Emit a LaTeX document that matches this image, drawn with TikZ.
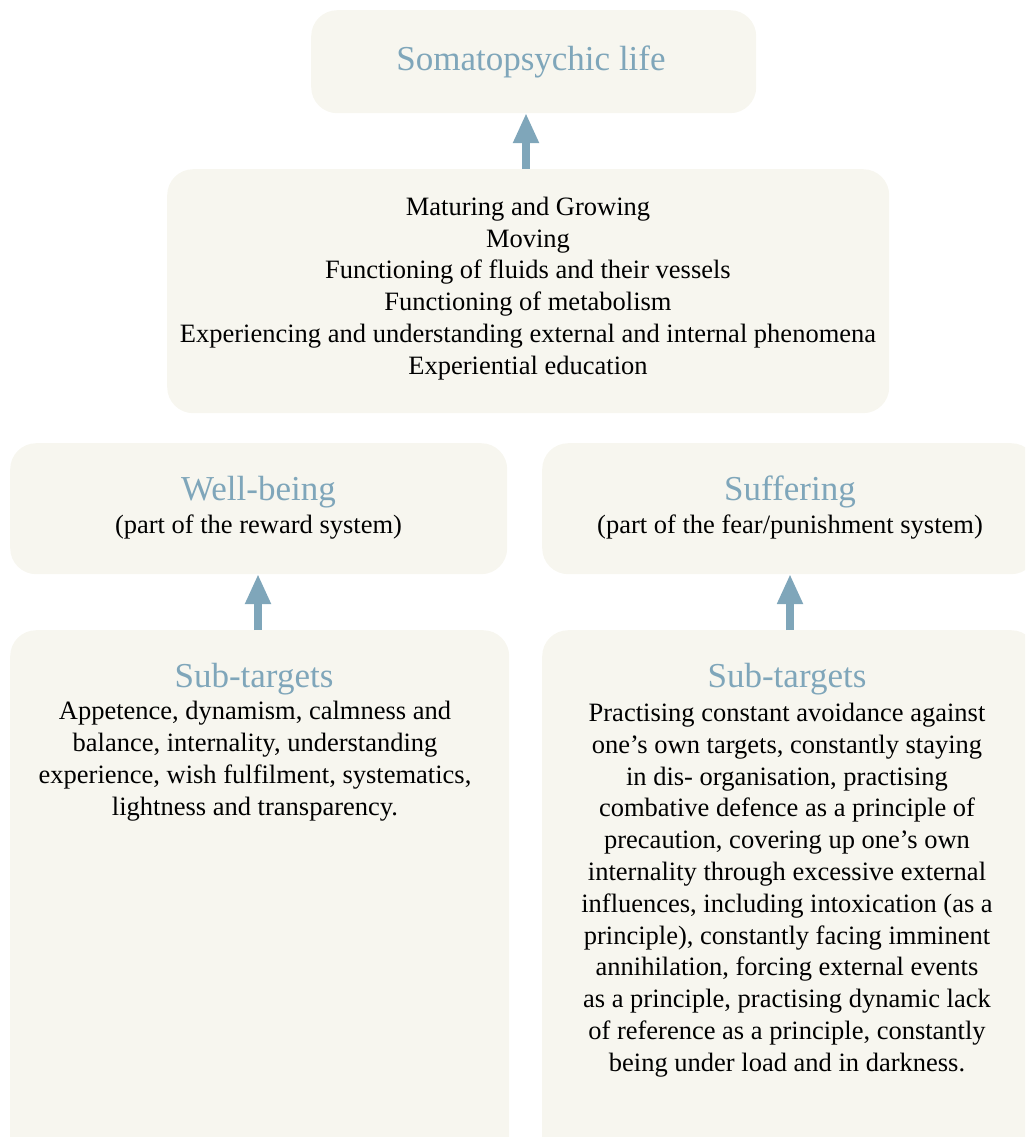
\documentclass[tikz,border=0pt]{standalone}
\usepackage{fontspec}
\setmainfont{Liberation Serif}
\usetikzlibrary{arrows.meta}
\definecolor{boxfill}{HTML}{F7F6EF}
\definecolor{accent}{HTML}{7FA6BA}
\tikzset{
  panel/.style={fill=boxfill, draw=none, rounded corners=26pt, inner sep=0pt, anchor=north west},
  heading/.style={text=accent, font=\fontsize{35}{40}\selectfont, inner sep=0pt},
  bodytext/.style={text=black, font=\fontsize{26.5}{31.8}\selectfont, align=center, inner sep=0pt},
  uparrow/.style={draw=accent, line width=8pt, -{Triangle[width=24pt,length=30pt]}}
}
\begin{document}
\begin{tikzpicture}[x=1pt,y=-1pt]
\useasboundingbox (0,0) rectangle (1025,1137);
\clip (0,0) rectangle (1025,1137);
% panels
\node[panel, minimum width=445pt, minimum height=103pt] (top) at (311,10) {};
\node[panel, minimum width=722pt, minimum height=244pt] (mid) at (167,169) {};
\node[panel, minimum width=497pt, minimum height=131pt] (well) at (10,443) {};
\node[panel, minimum width=495pt, minimum height=131pt] (suff) at (542,443) {};
\node[panel, minimum width=499pt, minimum height=540pt] (subl) at (10,630) {};
\node[panel, minimum width=495pt, minimum height=540pt] (subr) at (542,630) {};
% texts
\node[heading] (toptitle) at (531,62) {Somatopsychic life};
\node[bodytext] (midtext) at (528,288.5) {Maturing and Growing\\Moving\\Functioning of fluids and their vessels\\Functioning of metabolism\\Experiencing and understanding external and internal phenomena\\Experiential education};
\node[heading] (welltitle) at (258.5,492) {Well-being};
\node[bodytext] (wellsub) at (258.5,527) {(part of the reward system)};
\node[heading] (sufftitle) at (790,492) {Suffering};
\node[bodytext] (suffsub) at (790,527) {(part of the fear/punishment system)};
\node[heading] (subltitle) at (254,679) {Sub-targets};
\node[bodytext] (subltext) at (255,761) {Appetence, dynamism, calmness and\\balance, internality, understanding\\experience, wish fulfilment, systematics,\\lightness and transparency.};
\node[bodytext] (subrtext) at (787,890) {Practising constant avoidance against\\one’s own targets, constantly staying\\in dis- organisation, practising\\combative defence as a principle of\\precaution, covering up one’s own\\internality through excessive external\\influences, including intoxication (as a\\principle), constantly facing imminent\\annihilation, forcing external events\\as a principle, practising dynamic lack\\of reference as a principle, constantly\\being under load and in darkness.};
\node[heading] (subrtitle) at (787,679) {Sub-targets};
% arrows
\coordinate (a1s) at (526,169);
\coordinate (a1e) at (526,113);
\coordinate (a2s) at (258,630);
\coordinate (a2e) at (258,574);
\coordinate (a3s) at (790,630);
\coordinate (a3e) at (790,574);
\draw[uparrow] (a1s) -- (a1e);
\draw[uparrow] (a2s) -- (a2e);
\draw[uparrow] (a3s) -- (a3e);
\end{tikzpicture}
\end{document}
